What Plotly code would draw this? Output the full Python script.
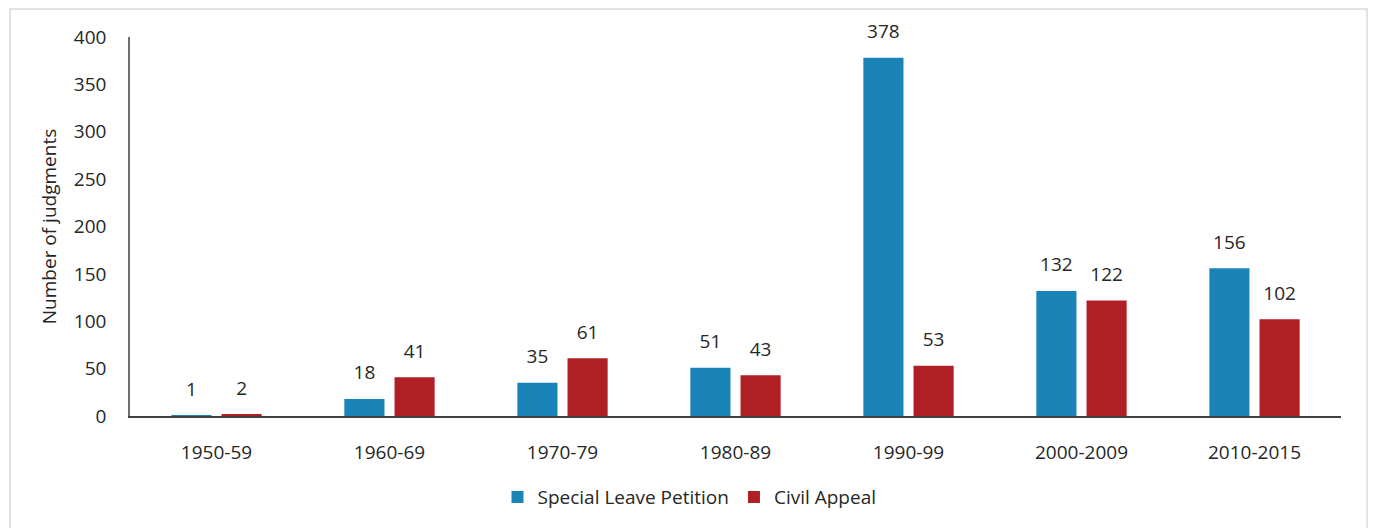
import plotly.graph_objects as go

# decades on the x axis
periods = ["1950-59", "1960-69", "1970-79", "1980-89", "1990-99", "2000-2009", "2010-2015"]
slp = [1, 18, 35, 51, 378, 132, 156]          # Special Leave Petition
civil_appeal = [2, 41, 61, 43, 53, 122, 102]  # Civil Appeal
y_ticks = [0, 50, 100, 150, 200, 250, 300, 350, 400]

blue = "#1a83b8"
red = "#b01f24"
txt = "#262626"
font_family = "'Open Sans', sans-serif"
fs = 19

fig = go.Figure()
for k, (vals, name, col) in enumerate([(slp, "Special Leave Petition", blue),
                                       (civil_appeal, "Civil Appeal", red)]):
    fig.add_trace(go.Bar(x=periods, y=vals, name=name, offsetgroup=str(k),
                         marker=dict(color=col, line=dict(width=0))))
    # value labels, lifted a bit above the bars by an invisible marker
    fig.add_trace(go.Scatter(x=periods, y=vals, mode="markers+text", offsetgroup=str(k),
                             text=vals, textposition="top center", cliponaxis=False,
                             marker=dict(size=22, opacity=0), showlegend=False,
                             hoverinfo="skip", textfont=dict(size=fs, color=txt)))

# the page body adds an 8px offset, margins are set to compensate
fig.update_layout(
    width=1376, height=528,
    margin=dict(l=122, r=43, t=29, b=120),
    paper_bgcolor="white", plot_bgcolor="white",
    font=dict(family=font_family, size=fs, color=txt),
    barmode="group", bargap=0.42, bargroupgap=0.2,
    scattermode="group", scattergap=0.42,
    showlegend=True,
    legend=dict(orientation="h", x=0.462, xanchor="center", y=-0.214, yanchor="middle",
                font=dict(size=fs, color=txt), itemwidth=30, traceorder="normal"),
)
fig.update_xaxes(showline=True, linecolor="#404040", linewidth=1.5, showgrid=False,
                 ticks="", ticklabelstandoff=18, tickfont=dict(size=fs, color=txt))
fig.update_yaxes(range=[0, 400], tickvals=y_ticks, showline=True, linecolor="#6e6e6e",
                 linewidth=1.5, showgrid=False, zeroline=False, ticks="",
                 ticklabelstandoff=18, tickfont=dict(size=fs, color=txt),
                 title=dict(text="Number of judgments", font=dict(size=fs, color=txt), standoff=12))

# light frame around the whole chart
fig.add_shape(type="rect", xref="paper", yref="paper",
              x0=-0.099, x1=1.0215, y0=-0.5, y1=1.0739,
              line=dict(color="#d9d9d9", width=1.5), layer="below")

fig.write_html("out.html")
